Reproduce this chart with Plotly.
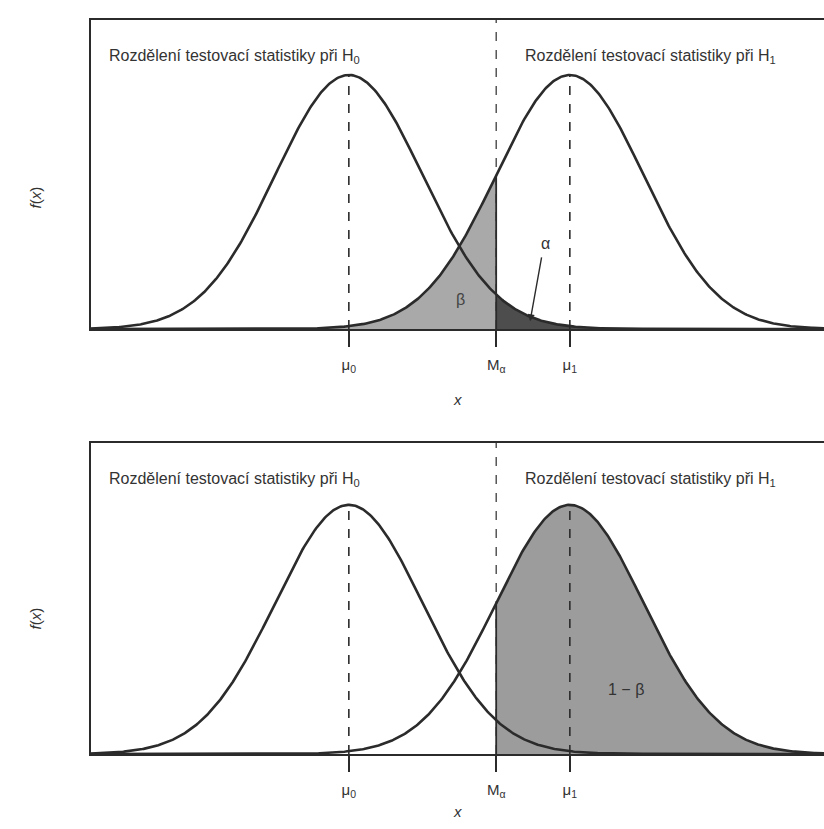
import numpy as np
import plotly.graph_objects as go

# values (data units: sigma = 1)
mu0 = 0.0
mu1 = 3.0
sigma = 1.0
m_alpha = 2.0
x_range = [-3.5, 6.45]
tick_vals = [mu0, m_alpha, mu1]
tick_text = ["μ<sub>0</sub>", "M<sub>α</sub>", "μ<sub>1</sub>"]
label_h0 = "Rozdělení testovací statistiky při H<sub>0</sub>"
label_h1 = "Rozdělení testovací statistiky při H<sub>1</sub>"


def pdf(x, m, s):
    return np.exp(-0.5 * ((x - m) / s) ** 2) / (s * np.sqrt(2 * np.pi))


x = np.linspace(x_range[0], x_range[1], 600)
f0 = pdf(x, mu0, sigma)
f1 = pdf(x, mu1, sigma)
peak = pdf(0, 0, sigma)

CURVE = "#2b2b2b"
TXT = "#333333"
FONT = "Liberation Sans, Arial, sans-serif"

fig = go.Figure()

# ---------- top panel ----------
xb = x[x <= m_alpha]
xb = np.append(xb, m_alpha)
yb = pdf(xb, mu1, sigma)
fig.add_trace(go.Scatter(x=np.concatenate([xb, [m_alpha, xb[0]]]),
                         y=np.concatenate([yb, [0, 0]]),
                         fill="toself", fillcolor="#a9a9a9", mode="none",
                         xaxis="x", yaxis="y", hoverinfo="skip"))
xa = np.concatenate([[m_alpha], x[x >= m_alpha]])
ya = pdf(xa, mu0, sigma)
fig.add_trace(go.Scatter(x=np.concatenate([xa, [xa[-1], m_alpha]]),
                         y=np.concatenate([ya, [0, 0]]),
                         fill="toself", fillcolor="#4d4d4d", mode="none",
                         xaxis="x", yaxis="y", hoverinfo="skip"))
fig.add_trace(go.Scatter(x=x, y=f0, mode="lines", line=dict(color=CURVE, width=2.6),
                         xaxis="x", yaxis="y", hoverinfo="skip"))
fig.add_trace(go.Scatter(x=x, y=f1, mode="lines", line=dict(color=CURVE, width=2.6),
                         xaxis="x", yaxis="y", hoverinfo="skip"))

# ---------- bottom panel ----------
xp = np.concatenate([[m_alpha], x[x >= m_alpha]])
yp = pdf(xp, mu1, sigma)
fig.add_trace(go.Scatter(x=np.concatenate([xp, [xp[-1], m_alpha]]),
                         y=np.concatenate([yp, [0, 0]]),
                         fill="toself", fillcolor="#9c9c9c", mode="none",
                         xaxis="x2", yaxis="y2", hoverinfo="skip"))
fig.add_trace(go.Scatter(x=x, y=f0, mode="lines", line=dict(color=CURVE, width=2.6),
                         xaxis="x2", yaxis="y2", hoverinfo="skip"))
fig.add_trace(go.Scatter(x=x, y=f1, mode="lines", line=dict(color=CURVE, width=2.6),
                         xaxis="x2", yaxis="y2", hoverinfo="skip"))

y1_top = 0.4853
y2_top = 0.498

shapes = []
for xa_, ya_, ytop in [("x", "y", y1_top), ("x2", "y2", y2_top)]:
    for m in (mu0, mu1):
        shapes.append(dict(type="line", xref=xa_, yref=ya_, x0=m, x1=m, y0=0, y1=peak,
                           line=dict(color=CURVE, width=1.6, dash="dash")))
    shapes.append(dict(type="line", xref=xa_, yref=ya_, x0=m_alpha, x1=m_alpha, y0=0, y1=ytop,
                       line=dict(color=CURVE, width=1.2, dash="dash")))
    shapes.append(dict(type="line", xref=xa_, yref=ya_, x0=m_alpha, x1=m_alpha, y0=0,
                       y1=float(pdf(m_alpha, mu1, sigma)),
                       line=dict(color=CURVE, width=1.8)))

axis_common = dict(range=x_range, showgrid=False, zeroline=False, showline=True,
                   linecolor=CURVE, linewidth=2.4, mirror=True,
                   tickvals=tick_vals, ticktext=tick_text, ticks="outside",
                   ticklen=16, tickwidth=1.6, tickcolor=CURVE,
                   ticklabelstandoff=5,
                   tickfont=dict(family=FONT, size=15, color=TXT))
yaxis_common = dict(showgrid=False, zeroline=False, showline=True, linecolor=CURVE,
                    linewidth=2.4, showticklabels=False, ticks="")

annotations = []
for xr, yr, ytxt in [("x domain", "y domain", 0.919), ("x2 domain", "y2 domain", 0.92)]:
    annotations.append(dict(xref=xr, yref=yr, x=0.0218, y=ytxt, text=label_h0, showarrow=False,
                            xanchor="left", font=dict(family=FONT, size=16, color=TXT)))
    annotations.append(dict(xref=xr, yref=yr, x=0.589, y=ytxt, text=label_h1, showarrow=False,
                            xanchor="left", font=dict(family=FONT, size=16, color=TXT)))

annotations += [
    dict(xref="x", yref="y", x=1.52, y=0.047, text="β", showarrow=False,
         font=dict(family=FONT, size=16, color="#444")),
    dict(xref="x", yref="y", x=2.46, y=0.012, ax=2.62, ay=0.115, axref="x", ayref="y",
         text="", showarrow=True, arrowhead=2, arrowsize=1, arrowwidth=1.4, arrowcolor=CURVE),
    dict(xref="x", yref="y", x=2.67, y=0.134, text="α", showarrow=False,
         font=dict(family=FONT, size=16, color=TXT)),
    dict(xref="x2", yref="y2", x=3.76, y=0.1025, text="1 − β", showarrow=False,
         font=dict(family=FONT, size=16, color=TXT)),
    dict(xref="paper", yref="paper", x=457 / 824, y=1 - 399 / 829, text="<i>x</i>",
         showarrow=False, font=dict(family=FONT, size=15, color=TXT)),
    dict(xref="paper", yref="paper", x=457 / 824, y=1 - 822 / 829, text="<i>x</i>",
         showarrow=False, font=dict(family=FONT, size=15, color=TXT)),
    dict(xref="paper", yref="paper", x=24 / 824, y=1 - 185 / 829, text="<i>f</i>(<i>x</i>)",
         showarrow=False, textangle=-90, font=dict(family=FONT, size=15, color=TXT)),
    dict(xref="paper", yref="paper", x=24 / 824, y=1 - 632 / 829, text="<i>f</i>(<i>x</i>)",
         showarrow=False, textangle=-90, font=dict(family=FONT, size=15, color=TXT)),
]

fig.update_layout(
    width=824, height=829,
    margin=dict(l=0, r=0, t=0, b=0),
    paper_bgcolor="white", plot_bgcolor="white",
    showlegend=False,
    xaxis=dict(domain=[91 / 824, 1.0], anchor="y", **axis_common),
    yaxis=dict(domain=[1 - 329 / 829, 1 - 20 / 829], range=[0, y1_top], anchor="x", **yaxis_common),
    xaxis2=dict(domain=[91 / 824, 1.0], anchor="y2", **axis_common),
    yaxis2=dict(domain=[1 - 754 / 829, 1 - 443 / 829], range=[0, y2_top], anchor="x2", **yaxis_common),
    shapes=shapes,
    annotations=annotations,
)

fig.write_html("out.html", config={"displayModeBar": False},
               post_script="document.body.style.margin='0px';document.body.style.overflow='hidden';")
